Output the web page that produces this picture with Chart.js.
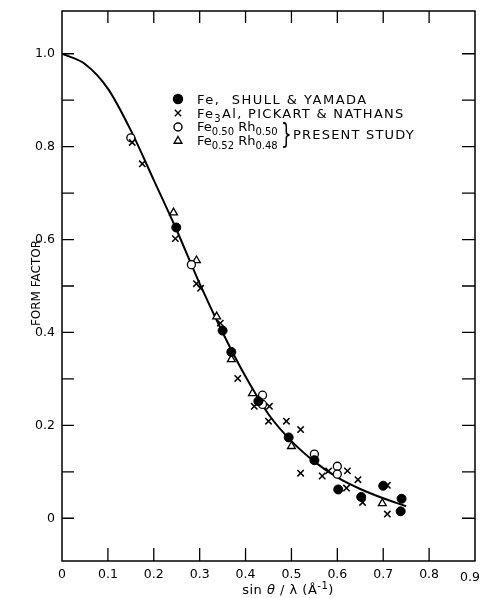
<!DOCTYPE html>
<html>
<head>
<meta charset="utf-8">
<script src="https://cdn.jsdelivr.net/npm/chart.js@4.4.1/dist/chart.umd.min.js"></script>
<style>
  html, body { margin: 0; padding: 0; background: #fff; }
  #wrap { width: 481px; height: 598px; }
</style>
</head>
<body>
<div id="wrap"><canvas id="c" width="481" height="598"></canvas></div>
<script>
// sin(theta)/lambda values and form factors
const feX = [0.249, 0.350, 0.369, 0.428, 0.494, 0.550, 0.602, 0.652, 0.700, 0.740, 0.738];
const feY = [0.626, 0.404, 0.358, 0.252, 0.174, 0.125, 0.062, 0.046, 0.070, 0.042, 0.015];

const fe3alX = [0.153, 0.175, 0.247, 0.293, 0.302, 0.345, 0.383, 0.419, 0.452, 0.450, 0.489, 0.520, 0.520, 0.567, 0.581, 0.622, 0.620, 0.645, 0.655, 0.709, 0.709];
const fe3alY = [0.809, 0.763, 0.602, 0.505, 0.495, 0.420, 0.301, 0.241, 0.241, 0.209, 0.209, 0.191, 0.097, 0.091, 0.102, 0.102, 0.065, 0.083, 0.034, 0.071, 0.009];

const rh50X = [0.150, 0.282, 0.437, 0.437, 0.550, 0.600, 0.600];
const rh50Y = [0.819, 0.546, 0.265, 0.245, 0.138, 0.112, 0.095];

const rh48X = [0.243, 0.293, 0.337, 0.369, 0.415, 0.500, 0.698];
const rh48Y = [0.658, 0.555, 0.434, 0.342, 0.269, 0.155, 0.032];

// smooth theoretical curve
const curveX = [0, 0.05, 0.1, 0.15, 0.2, 0.25, 0.3, 0.35, 0.4, 0.45, 0.5, 0.55, 0.6, 0.65, 0.7, 0.75];
const curveY = [1.0, 0.978, 0.925, 0.835, 0.728, 0.62, 0.505, 0.40, 0.305, 0.224, 0.166, 0.122, 0.088, 0.063, 0.043, 0.026];

const xTicks = [0, 0.1, 0.2, 0.3, 0.4, 0.5, 0.6, 0.7, 0.8, 0.9];
const xLabels = ["0", "0.1", "0.2", "0.3", "0.4", "0.5", "0.6", "0.7", "0.8", "0.9"];
const yTicks = [0, 0.1, 0.2, 0.3, 0.4, 0.5, 0.6, 0.7, 0.8, 0.9, 1.0];
const yLabels = ["0", "", "0.2", "", "0.4", "", "0.6", "", "0.8", "", "1.0"];

const FONT = "'DejaVu Sans', sans-serif";
const pts = (xs, ys) => xs.map((x, i) => ({ x, y: ys[i] }));

// frame with inward tick marks on all four sides
const framePlugin = {
  id: "frame",
  afterDraw(chart) {
    const { ctx, chartArea: a, scales } = chart;
    ctx.save();
    ctx.strokeStyle = "#000";
    ctx.lineWidth = 1.5;
    ctx.strokeRect(a.left, a.top, a.right - a.left, a.bottom - a.top);
    ctx.lineWidth = 1.3;
    ctx.beginPath();
    xTicks.slice(1, -1).forEach(v => {
      const px = scales.x.getPixelForValue(v);
      ctx.moveTo(px, a.bottom); ctx.lineTo(px, a.bottom - 13);
      ctx.moveTo(px, a.top); ctx.lineTo(px, a.top + 12);
    });
    yTicks.forEach(v => {
      const py = scales.y.getPixelForValue(v);
      ctx.moveTo(a.left, py); ctx.lineTo(a.left + 12, py);
      ctx.moveTo(a.right, py); ctx.lineTo(a.right - 13, py);
    });
    ctx.stroke();
    ctx.restore();
  }
};

// writes a run of [text, kind] pieces: 0 normal, 1 subscript, 2 superscript, 3 italic
function run(ctx, parts, x, base, size) {
  parts.forEach(([t, kind]) => {
    const s = kind === 1 || kind === 2 ? Math.round(size * 0.75) : size;
    ctx.font = (kind === 3 ? "italic " : "") + s + "px " + FONT;
    const dy = kind === 1 ? 4 : kind === 2 ? -5 : 0;
    ctx.fillText(t, x, base + dy);
    x += ctx.measureText(t).width;
  });
  return x;
}

// legend drawn inside the plot, axis titles and the clipped last x label
const textPlugin = {
  id: "texts",
  afterDraw(chart) {
    const ctx = chart.ctx;
    const mx = 178, tx = 197;
    const rows = [99, 113, 127, 141];
    ctx.save();
    ctx.strokeStyle = "#000";
    const draw = (style, r, y, fill) => {
      ctx.fillStyle = fill;
      ctx.lineWidth = 1.4;
      Chart.helpers.drawPoint(ctx, { pointStyle: style, radius: r, rotation: 0, borderWidth: 1.4 }, mx, y);
    };
    draw("circle", 4.5, rows[0], "#000");
    draw("crossRot", 4.5, rows[1], "#000");
    draw("circle", 4, rows[2], "#fff");
    draw("triangle", 4.5, rows[3], "#fff");

    ctx.fillStyle = "#000";
    ctx.textBaseline = "alphabetic";
    ctx.letterSpacing = "1.5px";
    run(ctx, [["Fe,  SHULL & YAMADA", 0]], tx, rows[0] + 5, 13);
    ctx.letterSpacing = "1.3px";
    run(ctx, [["Fe", 0], ["3", 1], ["Al, PICKART & NATHANS", 0]], tx, rows[1] + 5, 13);
    ctx.letterSpacing = "0px";
    run(ctx, [["Fe", 0], ["0.50", 1], [" Rh", 0], ["0.50", 1]], tx, rows[2] + 4, 13);
    run(ctx, [["Fe", 0], ["0.52", 1], [" Rh", 0], ["0.48", 1]], tx, rows[3] + 4, 13);

    // brace and label
    ctx.font = "28px " + FONT;
    ctx.save();
    ctx.scale(0.6, 1);
    ctx.fillText("}", 281 / 0.6, 144);
    ctx.restore();
    ctx.letterSpacing = "1.2px";
    run(ctx, [["PRESENT STUDY", 0]], 293, 139, 13);

    // x axis title
    ctx.letterSpacing = "0.5px";
    const parts = [["sin ", 0], ["θ", 3], [" / ", 0], ["λ", 0], [" (Å", 0], ["-1", 2], [")", 0]];
    let w = 0;
    parts.forEach(([t, kind]) => {
      const s = kind === 2 ? 10 : 13;
      ctx.font = (kind === 3 ? "italic " : "") + s + "px " + FONT;
      w += ctx.measureText(t).width;
    });
    run(ctx, parts, 288 - w / 2, 594, 13);

    // last x label sits just inside the canvas edge
    ctx.letterSpacing = "0px";
    ctx.font = "12.5px " + FONT;
    ctx.textAlign = "center";
    ctx.fillText(xLabels[xLabels.length - 1], 470, 581);

    // y axis title
    ctx.font = "12px " + FONT;
    ctx.translate(37, 283);
    ctx.rotate(-Math.PI / 2);
    ctx.textBaseline = "middle";
    ctx.fillText("FORM FACTOR", 0, 0);
    ctx.restore();
  }
};

new Chart(document.getElementById("c"), {
  type: "scatter",
  data: {
    datasets: [
      {
        label: "curve",
        data: pts(curveX, curveY),
        showLine: true,
        borderColor: "#000",
        borderWidth: 2,
        pointRadius: 0,
        cubicInterpolationMode: "monotone",
        order: 5
      },
      {
        label: "Fe, SHULL & YAMADA",
        data: pts(feX, feY),
        pointStyle: "circle",
        pointRadius: 4.5,
        backgroundColor: "#000",
        borderColor: "#000",
        borderWidth: 1
      },
      {
        label: "Fe3Al, PICKART & NATHANS",
        data: pts(fe3alX, fe3alY),
        pointStyle: "crossRot",
        pointRadius: 4.5,
        borderColor: "#000",
        borderWidth: 1.5
      },
      {
        label: "Fe0.50 Rh0.50",
        data: pts(rh50X, rh50Y),
        pointStyle: "circle",
        pointRadius: 4,
        backgroundColor: "#fff",
        borderColor: "#000",
        borderWidth: 1.3
      },
      {
        label: "Fe0.52 Rh0.48",
        data: pts(rh48X, rh48Y),
        pointStyle: "triangle",
        pointRadius: 4.5,
        backgroundColor: "#fff",
        borderColor: "#000",
        borderWidth: 1.3
      }
    ]
  },
  options: {
    responsive: false,
    animation: false,
    events: [],
    layout: { padding: { top: 11, right: 6, left: 0, bottom: 0 } },
    plugins: { legend: { display: false }, tooltip: { enabled: false } },
    scales: {
      x: {
        type: "linear",
        min: 0,
        max: 0.9,
        afterBuildTicks: s => { s.ticks = xTicks.map(value => ({ value })); },
        afterFit: s => { s.height = 37; s.paddingLeft = 0; s.paddingRight = 0; },
        grid: { display: false, drawTicks: false },
        border: { display: false },
        ticks: {
          color: "#000",
          font: { family: FONT, size: 12.5 },
          padding: 6,
          maxRotation: 0,
          autoSkip: false,
          callback: (v, i) => (i === xLabels.length - 1 ? "" : xLabels[i])
        },
        title: { display: false }
      },
      y: {
        type: "linear",
        min: -0.092,
        max: 1.092,
        afterBuildTicks: s => { s.ticks = yTicks.map(value => ({ value })); },
        afterFit: s => { s.width = 62; s.paddingTop = 0; s.paddingBottom = 0; },
        grid: { display: false, drawTicks: false },
        border: { display: false },
        ticks: {
          color: "#000",
          font: { family: FONT, size: 12.5 },
          padding: 7,
          autoSkip: false,
          callback: (v, i) => yLabels[i]
        },
        title: { display: false }
      }
    }
  },
  plugins: [framePlugin, textPlugin]
});
</script>
</body>
</html>
